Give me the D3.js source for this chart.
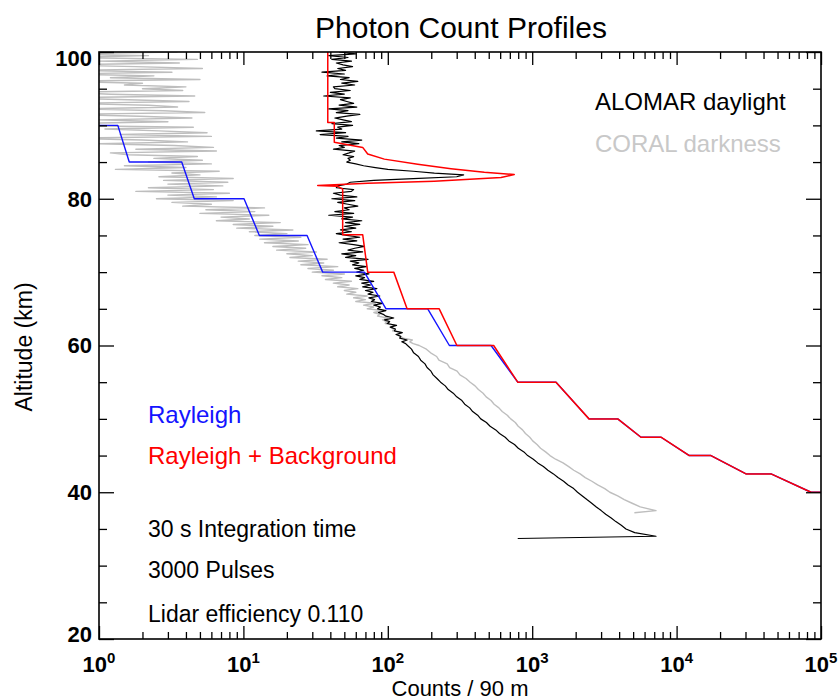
<!DOCTYPE html>
<html>
<head>
    <meta charset="utf-8">
    <title>Photon Count Profiles</title>
    <script src="https://cdn.jsdelivr.net/npm/d3@7"></script>
    <style>
        body { margin: 0; background: #fff; }
        svg { font-family: "Liberation Sans", Arial, sans-serif; }
    </style>
</head>
<body>
<script>
    // Measured profiles: 0.25 km bins from 100 to 60 km, 0.5 km bins below, last point is the return stroke
    var blackAlt = d3.range(100, 59.99, -0.25).concat(d3.range(59.5, 33.99, -0.5), [33.7]);
    var blackCounts = [
        46, 60, 39, 53, 41, 56, 44, 49, 57, 45, 51, 35, 50, 38, 54, 47, 62, 48, 59, 42,
        43, 55, 40, 50, 36, 55, 47, 52, 58, 46, 61, 39, 53, 44, 64, 52, 43, 49, 56, 41,
        57, 45, 48, 32, 51, 34, 53, 44, 66, 48, 63, 46, 50, 42, 59, 54, 49, 58, 53, 55,
        52, 60, 68, 82, 100, 150, 210, 335, 300, 150, 80, 55, 52, 45, 44, 58, 56, 42, 47, 61,
        41, 59, 45, 53, 62, 50, 54, 43, 58, 39, 57, 48, 66, 51, 64, 50, 60, 47, 56, 44,
        52, 64, 49, 61, 46, 58, 69, 59, 53, 67, 48, 60, 51, 73, 55, 63, 57, 71, 59, 68,
        61, 74, 60, 69, 64, 80, 66, 76, 67, 84, 70, 79, 73, 88, 74, 81, 77, 92, 80, 89,
        85, 97, 86, 93, 97, 110, 95, 103, 99, 115, 104, 113, 111, 126, 114, 123, 121, 136, 125, 133,
        137,
        146, 151, 163, 169, 181, 187, 199, 206, 219,
        232, 250, 262, 284, 300, 326, 341, 369, 387, 419,
        440, 482, 511, 559, 594, 650, 689, 754, 801, 876,
        930, 1018, 1092, 1195, 1284, 1403, 1508, 1650, 1772, 1938,
        2060, 2225, 2392, 2583, 2780, 3005, 3228, 3525, 3795, 4140,
        4460, 5130, 7200,
        794];

    var grayAlt = d3.range(100, 59.99, -0.25).concat(d3.range(59.5, 37.49, -0.5), [37.2]);
    var grayCounts = [
        3.5, 0.5, 2.2, 0.6, 4.8, 1.0, 3.6, 0.5, 1.8, 5.2, 0.6, 3.2, 0.5, 2.4, 1.2, 5.0, 0.5, 2.0, 1.5, 4.0,
        2.0, 3.8, 0.5, 1.2, 4.6, 0.5, 1.6, 4.2, 0.6, 2.2, 3.5, 0.7, 2.8, 5.4, 0.5, 1.9, 4.4, 1.0, 3.0, 0.6,
        0.5, 4.5, 1.1, 2.6, 5.6, 1.4, 6.0, 0.6, 2.0, 4.1, 1.0, 3.3, 6.2, 1.8, 6.5, 1.2, 1.6, 4.8, 2.4, 5.2,
        2.2, 6.0, 1.5, 4.0, 1.3, 6.8, 3.2, 5.0, 2.6, 8.5, 2.8, 7.8, 3.0, 7.2, 2.2, 6.2, 1.8, 8.0, 3.0, 6.5,
        2.5, 8.5, 3.2, 6.0, 3.8, 14, 5.5, 12, 5, 15, 7, 11, 6.5, 18, 8.5, 16, 9, 22, 11, 20,
        12, 25, 13, 24, 14, 28, 16, 27, 17, 32, 20, 30, 21, 38, 24, 36, 25, 45, 28, 42,
        30, 50, 35, 48, 37, 56, 42, 54, 45, 62, 50, 60, 52, 72, 58, 70, 60, 82, 68, 80,
        72, 92, 80, 88, 85, 100, 92, 98, 96, 112, 104, 110, 108, 125, 118, 122, 128, 148, 142, 150,
        165,
        185, 198, 218, 226, 258, 268, 302, 316, 348,
        372, 402, 424, 457, 480, 519, 545, 588, 620, 672,
        710, 764, 800, 857, 898, 962, 1008, 1080, 1142, 1238,
        1328, 1452, 1635, 1790, 1940, 2150, 2330, 2590, 2840, 3180,
        3450, 3910, 4340, 4920, 5600, 7200,
        5100];

    // Model profiles (vertices of the stepped curves)
    var rayleighCounts = [0.8, 1.35, 1.62, 3.74, 4.57, 10.1, 12.9, 27.6, 35.4, 68.8, 97.2, 189, 267, 519, 794,
        1462, 2474, 3911, 5667, 7800, 12250, 17300, 30250, 45100, 85300, 100000];
    var rayleighAlt = [90, 90, 85, 85, 80, 80, 75, 75, 70, 70, 65, 65, 60, 60, 55,
        55, 50, 50, 47.5, 47.5, 45, 45, 42.5, 42.5, 40, 40];

    var backgroundCounts = [38.4, 38.4, 42.6, 42.6, 67, 72.6, 94.6, 161, 274, 466, 751, 608, 210, 72.6, 32.7, 45, 48.7,
        48.7, 67, 72.6, 110, 136, 227, 301, 541, 794, 1462, 2474, 3911, 5667, 7800, 12250, 17300, 30250, 45100, 85300, 100000];
    var backgroundAlt = [100, 90.4, 90.4, 87.7, 87.0, 86.1, 85.4, 84.7, 84.1, 83.6, 83.3, 82.9, 82.4, 82.1, 81.8, 81.7, 81.3,
        75.1, 75.1, 70, 70, 65, 65, 60, 60, 55, 55, 50, 50, 47.5, 47.5, 45, 45, 42.5, 42.5, 40, 40];

    var xTickExponents = [0, 1, 2, 3, 4, 5];
    var yTickLabels = [20, 40, 60, 80, 100];
    var notes = ["30 s Integration time", "3000 Pulses", "Lidar efficiency 0.110"];

    var svgWidth = 840;
    var svgHeight = 700;
    var plotLeft = 99, plotRight = 821, plotTop = 52, plotBottom = 639;

    var svg = d3.select("body")
                .append("svg")
                .attr("width", svgWidth)
                .attr("height", svgHeight);

    var x = d3.scaleLog().domain([1, 1e5]).range([plotLeft, plotRight]);
    var y = d3.scaleLinear().domain([20, 100]).range([plotBottom, plotTop]);

    svg.append("clipPath").attr("id", "plot")
        .append("rect")
        .attr("x", plotLeft).attr("y", plotTop)
        .attr("width", plotRight - plotLeft).attr("height", plotBottom - plotTop);

    // Profiles
    var line = d3.line()
                 .x(function(d) { return x(d[0]); })
                 .y(function(d) { return y(d[1]); });

    function pairs(counts, alts) {
        return counts.map(function(c, i) { return [c, alts[i]]; });
    }

    var series = [
        {data: pairs(grayCounts, grayAlt), color: "#bebebe", width: 1.4},
        {data: pairs(blackCounts, blackAlt), color: "#000", width: 1.2},
        {data: pairs(rayleighCounts, rayleighAlt), color: "#1414ff", width: 1.4},
        {data: pairs(backgroundCounts, backgroundAlt), color: "#ff0000", width: 1.5}
    ];

    svg.append("g")
        .attr("clip-path", "url(#plot)")
        .selectAll("path")
        .data(series)
        .enter()
        .append("path")
        .attr("d", function(d) { return line(d.data); })
        .attr("fill", "none")
        .attr("stroke", function(d) { return d.color; })
        .attr("stroke-width", function(d) { return d.width; })
        .attr("stroke-linejoin", "round");

    // Ticks (inward, on all four sides)
    var xMajor = xTickExponents.map(function(e) { return Math.pow(10, e); });
    var xMinor = x.ticks().filter(function(v) { return xMajor.indexOf(v) < 0; });
    var yAll = y.ticks(16);
    var yMinor = yAll.filter(function(v) { return yTickLabels.indexOf(v) < 0; });

    function ticks(axis, values, size) {
        var g = svg.append("g")
                   .call(axis.tickValues(values).tickSizeInner(size).tickSizeOuter(0).tickFormat(""));
        g.select(".domain").remove();
        g.selectAll("line").attr("stroke", "#000").attr("stroke-width", 1.3);
        return g;
    }

    ticks(d3.axisBottom(x), xMajor, -13).attr("transform", "translate(0," + plotBottom + ")");
    ticks(d3.axisBottom(x), xMinor, -7).attr("transform", "translate(0," + plotBottom + ")");
    ticks(d3.axisTop(x), xMajor, -13).attr("transform", "translate(0," + plotTop + ")");
    ticks(d3.axisTop(x), xMinor, -7).attr("transform", "translate(0," + plotTop + ")");
    ticks(d3.axisLeft(y), yTickLabels, -15).attr("transform", "translate(" + plotLeft + ",0)");
    ticks(d3.axisLeft(y), yMinor, -8).attr("transform", "translate(" + plotLeft + ",0)");
    ticks(d3.axisRight(y), yTickLabels, -15).attr("transform", "translate(" + plotRight + ",0)");
    ticks(d3.axisRight(y), yMinor, -8).attr("transform", "translate(" + plotRight + ",0)");

    // Frame
    svg.append("rect")
        .attr("x", plotLeft).attr("y", plotTop)
        .attr("width", plotRight - plotLeft).attr("height", plotBottom - plotTop)
        .attr("fill", "none")
        .attr("stroke", "#000")
        .attr("stroke-width", 1.6);

    // Tick labels
    svg.selectAll(".ylab")
        .data(yTickLabels)
        .enter()
        .append("text")
        .attr("class", "ylab")
        .attr("x", plotLeft - 7)
        .attr("y", function(d) { return y(d) + (d === 100 ? 6 : d === 20 ? -5 : 0); })
        .attr("dy", "0.36em")
        .attr("text-anchor", "end")
        .attr("font-size", 22)
        .attr("font-weight", "bold")
        .text(function(d) { return d; });

    var xlab = svg.selectAll(".xlab")
        .data(xTickExponents)
        .enter()
        .append("text")
        .attr("class", "xlab")
        .attr("x", function(d) { return x(Math.pow(10, d)); })
        .attr("y", 672)
        .attr("text-anchor", "middle")
        .attr("font-size", 22)
        .attr("font-weight", "bold");
    xlab.append("tspan").text("10");
    xlab.append("tspan")
        .attr("font-size", 15)
        .attr("dy", -9)
        .text(function(d) { return d; });

    // Titles
    svg.append("text")
        .attr("x", 461).attr("y", 38)
        .attr("text-anchor", "middle")
        .attr("font-size", 30)
        .text("Photon Count Profiles");

    svg.append("text")
        .attr("x", 460).attr("y", 696)
        .attr("text-anchor", "middle")
        .attr("font-size", 22)
        .text("Counts / 90 m");

    svg.append("text")
        .attr("transform", "translate(32,347) rotate(-90)")
        .attr("text-anchor", "middle")
        .attr("font-size", 23)
        .text("Altitude (km)");

    // Legend and notes
    var labels = [
        {text: "ALOMAR daylight", x: 595, y: 110, color: "#000", size: 24},
        {text: "CORAL darkness", x: 595, y: 152, color: "#c8c8c8", size: 24},
        {text: "Rayleigh", x: 148, y: 423, color: "#1414ff", size: 24},
        {text: "Rayleigh + Background", x: 148, y: 464, color: "#ff0000", size: 24}
    ];
    notes.forEach(function(n, i) {
        labels.push({text: n, x: 148, y: [537, 578, 622][i], color: "#000", size: 23});
    });

    svg.selectAll(".lab")
        .data(labels)
        .enter()
        .append("text")
        .attr("class", "lab")
        .attr("x", function(d) { return d.x; })
        .attr("y", function(d) { return d.y; })
        .attr("fill", function(d) { return d.color; })
        .attr("font-size", function(d) { return d.size; })
        .text(function(d) { return d.text; });
</script>
</body>
</html>
